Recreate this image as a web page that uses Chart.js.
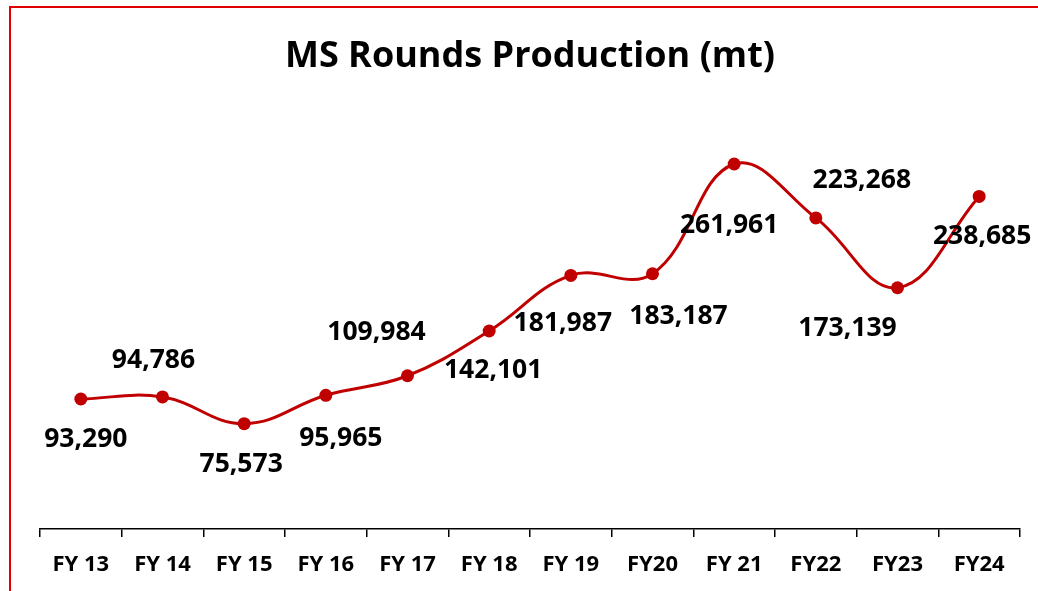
<!DOCTYPE html>
<html>
<head>
<meta charset="utf-8">
<script src="https://cdn.jsdelivr.net/npm/chart.js@4.4.1/dist/chart.umd.min.js"></script>
<style>
  html, body { margin: 0; padding: 0; background: #fff; }
  #wrap { position: relative; width: 1038px; height: 591px; overflow: hidden; }
  #frame { position: absolute; left: 9px; top: 6px; width: 1200px; height: 800px;
           border-left: 2px solid #e00000; border-top: 2px solid #e00000; box-sizing: border-box; }
  canvas { position: absolute; left: 0; top: 0; }
</style>
</head>
<body>
<div id="wrap">
  <div id="frame"></div>
  <canvas id="c" width="1038" height="591"></canvas>
</div>
<script>
const categories = ["FY 13", "FY 14", "FY 15", "FY 16", "FY 17", "FY 18", "FY 19", "FY20", "FY 21", "FY22", "FY23", "FY24"];
const production = [93290, 94786, 75573, 95965, 109984, 142101, 181987, 183187, 261961, 223268, 173139, 238685];
// label offsets (px) relative to each point: [dx, dy]
const labelOffsets = [[5,40],[-9,-36],[-3,41],[15,43],[-31,-43],[4,39],[-8,48],[26,43],[-5,61],[46,-37],[-50,41],[3,40]];

const FONT = "'Open Sans', Lato, sans-serif";

const labelPlugin = {
  id: 'pointLabels',
  afterDatasetsDraw(chart) {
    const ctx = chart.ctx;
    const meta = chart.getDatasetMeta(0);
    ctx.save();
    ctx.font = "bold 26.5px " + FONT;
    ctx.fillStyle = "#000";
    ctx.textAlign = "center";
    ctx.textBaseline = "middle";
    meta.data.forEach((pt, i) => {
      const off = labelOffsets[i];
      ctx.fillText(production[i].toLocaleString('en-US'), pt.x + off[0], pt.y + off[1]);
    });
    ctx.restore();
  }
};

new Chart(document.getElementById('c'), {
  type: 'line',
  data: {
    labels: categories,
    datasets: [{
      data: production,
      borderColor: '#c00000',
      backgroundColor: '#c00000',
      borderWidth: 3,
      pointRadius: 6.5,
      pointHoverRadius: 6.5,
      pointBackgroundColor: '#c00000',
      pointBorderWidth: 0,
      tension: 0.4,
      fill: false
    }]
  },
  options: {
    responsive: false,
    animation: false,
    devicePixelRatio: 1,
    layout: { padding: { left: 40, right: 18, top: 0, bottom: 0 } },
    plugins: {
      legend: { display: false },
      tooltip: { enabled: false },
      title: {
        display: true,
        text: 'MS Rounds Production (mt)',
        color: '#000',
        font: { family: FONT, size: 36, weight: 'bold', lineHeight: 1.2 },
        padding: { top: 35.4, bottom: 32.4 }
      }
    },
    scales: {
      y: { display: false, min: 0, max: 300000 },
      x: {
        offset: true,
        grid: { offset: true, drawOnChartArea: false, drawTicks: true, tickLength: 8, color: '#000', lineWidth: 1.5 },
        border: { display: true, color: '#000', width: 1.5 },
        ticks: { color: '#000', font: { family: FONT, size: 22, weight: 'bold' }, padding: 15 },
        afterFit(scale) { scale.height = 62; }
      }
    }
  },
  plugins: [labelPlugin]
});
</script>
</body>
</html>
